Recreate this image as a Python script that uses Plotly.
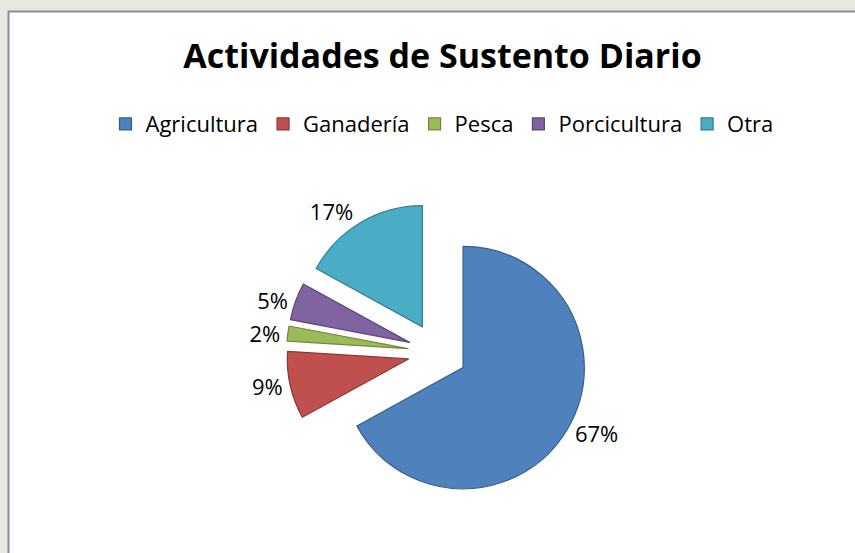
import plotly.graph_objects as go

categories = ["Agricultura", "Ganadería", "Pesca", "Porcicultura", "Otra"]
values = [67, 9, 2, 5, 17]
fill_colors = ["#4F81BD", "#C0504D", "#9BBB59", "#8064A2", "#4BACC6"]
line_colors = ["#385D8A", "#8C3836", "#71893F", "#5C4776", "#357D91"]
title_text = "Actividades de Sustento Diario"

W, H = 855, 553
cx, cy = 437.5, 355.0   # pie centre in px (from top)
half = 152.0

fig = go.Figure(go.Pie(
    labels=categories,
    values=values,
    sort=False,
    direction="clockwise",
    rotation=0,
    pull=[0.245] * len(values),
    marker=dict(colors=fill_colors, line=dict(color=line_colors, width=1.2)),
    textinfo="percent",
    texttemplate="%{percent:.0%}",
    textposition="outside",
    textfont=dict(family="Open Sans", size=22, color="#000000"),
    domain=dict(x=[(cx - half) / W, (cx + half) / W],
                y=[(H - cy - half) / H, (H - cy + half) / H]),
    hoverinfo="label+percent",
))

fig.add_shape(type="rect", xref="paper", yref="paper",
              x0=8.5 / W, x1=1.05, y0=-0.05, y1=(H - 11.5) / H,
              fillcolor="#FFFFFF", line=dict(color="#8C8C8C", width=2),
              layer="below")

fig.update_layout(
    width=W, height=H,
    margin=dict(l=0, r=0, t=0, b=0),
    paper_bgcolor="#E7E8E2",
    plot_bgcolor="#FFFFFF",
    title=dict(text="<b>" + title_text + "</b>", x=442.5 / W, xanchor="center",
               y=(H - 56) / H, yanchor="middle",
               font=dict(family="Open Sans", size=34, color="#000000")),
    legend=dict(orientation="h", x=442 / W, xanchor="center",
                y=(H - 125) / H, yanchor="middle",
                font=dict(family="Open Sans", size=22, color="#000000"),
                itemwidth=30, bgcolor="rgba(0,0,0,0)"),
    showlegend=True,
)

fig.write_html("out.html",
               config={"displayModeBar": False},
               post_script="document.body.style.margin='0';"
                           "document.body.style.overflow='hidden';")
